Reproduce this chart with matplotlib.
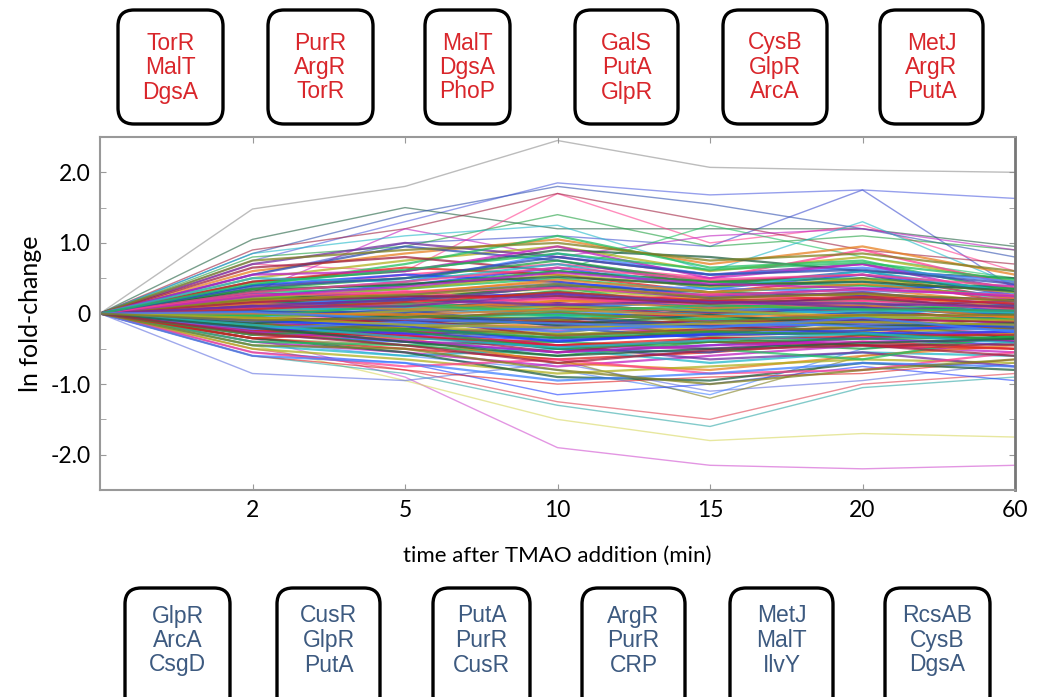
import matplotlib
matplotlib.use("Agg")
import matplotlib.pyplot as plt
import matplotlib.patches as patches
from matplotlib.ticker import MultipleLocator

# time points (evenly spaced on the plot)
TIMES = ["2", "5", "10", "15", "20", "60"]

# ln fold-change at 2, 5, 10, 15, 20, 60 min (all start at 0)
PROFILES = [
    [1.48, 1.80, 2.45, 2.07, 2.03, 2.00],
    [0.75, 1.30, 1.85, 1.68, 1.75, 1.63],
    [0.55, 1.00, 1.10, 0.95, 1.75, 0.35],
    [-0.35, -0.90, -1.90, -2.15, -2.20, -2.15],
    [-0.45, -0.95, -1.50, -1.80, -1.70, -1.75],
    [-0.60, -0.85, -1.30, -1.60, -1.05, -0.90],
    [-0.50, -0.80, -1.25, -1.50, -1.00, -0.85],
    [-0.85, -0.95, -0.70, -1.10, -0.95, -0.70],
    [1.05, 1.50, 1.20, 1.20, 1.20, 0.95],
    [0.70, 0.60, 1.70, 1.00, 1.25, 0.60],
    [0.85, 1.40, 1.80, 1.55, 1.20, 0.80],
    [0.40, 0.50, 0.60, 1.25, 0.80, 0.50],
    [0.90, 1.20, 1.70, 1.30, 0.90, 0.70],
    [-0.40, -0.60, -0.80, -1.15, -0.50, -0.30],
    [-0.35, -0.45, -0.65, -1.20, -0.60, -0.40],
    [-0.55, -0.70, -1.15, -1.00, -0.75, -0.95],
    [-0.60, -0.80, -1.00, -0.90, -0.85, -0.65],
    [0.80, 0.95, 1.40, 0.95, 1.10, 0.90],
    [0.30, 1.20, 0.80, 1.10, 1.20, 0.90],
    [0.85, 1.10, 1.25, 0.60, 1.30, 0.40],
    [0.60, 0.85, 1.05, 0.70, 0.95, 0.55],
    [0.50, 0.75, 0.95, 0.60, 0.80, 0.45],
    [0.70, 1.00, 0.80, 0.55, 0.70, 0.35],
    [0.45, 0.60, 0.90, 0.80, 0.60, 0.50],
    [0.35, 0.55, 0.70, 0.50, 0.90, 0.40],
    [0.55, 0.95, 0.75, 0.40, 0.60, 0.25],
    [0.40, 0.70, 1.10, 0.65, 0.75, 0.30],
    [0.65, 0.80, 0.60, 0.45, 0.55, 0.20],
    [0.30, 0.45, 0.85, 0.55, 0.65, 0.45],
    [0.75, 0.90, 1.00, 0.75, 0.85, 0.60],
    [0.25, 0.40, 0.65, 0.35, 0.55, 0.30],
    [0.45, 0.65, 0.55, 0.30, 0.50, 0.15],
    [0.35, 0.50, 0.75, 0.45, 0.40, 0.35],
    [0.55, 0.60, 0.95, 0.50, 0.70, 0.25],
    [0.20, 0.35, 0.60, 0.40, 0.45, 0.20],
    [0.20, 0.30, 0.45, 0.25, 0.35, 0.15],
    [0.15, 0.25, 0.35, 0.20, 0.30, 0.10],
    [0.10, 0.20, 0.30, 0.15, 0.20, 0.05],
    [0.25, 0.20, 0.40, 0.30, 0.25, 0.20],
    [0.05, 0.15, 0.20, 0.10, 0.15, 0.00],
    [0.10, 0.05, 0.25, 0.05, 0.10, -0.05],
    [0.30, 0.35, 0.50, 0.30, 0.40, 0.25],
    [0.00, 0.10, 0.15, 0.00, 0.05, -0.10],
    [-0.05, 0.00, 0.05, -0.10, 0.00, -0.15],
    [0.15, 0.10, 0.10, 0.05, 0.20, 0.05],
    [-0.10, -0.05, 0.00, -0.05, -0.10, -0.20],
    [0.05, -0.05, -0.10, 0.00, 0.05, -0.10],
    [-0.15, -0.10, -0.05, -0.15, -0.05, -0.25],
    [-0.20, -0.15, -0.20, -0.10, -0.15, -0.30],
    [0.10, 0.15, -0.05, 0.10, 0.00, 0.10],
    [-0.05, -0.20, -0.15, -0.25, -0.20, -0.15],
    [-0.25, -0.20, -0.30, -0.20, -0.25, -0.20],
    [0.20, 0.05, 0.15, -0.05, 0.10, -0.05],
    [-0.10, -0.25, -0.35, -0.30, -0.10, -0.35],
    [0.00, -0.10, -0.25, -0.15, -0.30, -0.10],
    [-0.30, -0.30, -0.20, -0.35, -0.35, -0.25],
    [0.25, 0.15, 0.05, 0.20, 0.15, 0.00],
    [-0.20, -0.35, -0.40, -0.25, -0.20, -0.40],
    [0.05, 0.25, 0.10, 0.15, -0.05, 0.15],
    [-0.15, 0.00, -0.10, 0.05, -0.10, -0.05],
    [0.12, 0.22, 0.28, 0.08, 0.25, 0.02],
    [-0.08, -0.12, 0.08, -0.02, -0.15, -0.22],
    [0.18, 0.12, 0.32, 0.12, 0.05, 0.12],
    [-0.22, -0.28, -0.18, -0.28, -0.08, -0.12],
    [0.02, 0.08, -0.02, -0.08, 0.12, -0.02],
    [0.08, -0.02, 0.18, 0.22, 0.28, 0.08],
    [-0.12, -0.18, -0.28, -0.05, -0.22, -0.28],
    [0.28, 0.25, 0.22, 0.18, 0.10, 0.18],
    [-0.28, -0.15, -0.12, -0.18, -0.28, -0.32],
    [0.15, 0.32, 0.12, 0.28, 0.18, 0.22],
    [-0.02, 0.05, -0.18, -0.12, 0.02, -0.08],
    [0.22, 0.18, 0.38, 0.05, 0.22, -0.02],
    [-0.18, -0.08, -0.32, -0.22, -0.12, -0.18],
    [0.08, 0.28, 0.42, 0.35, 0.32, 0.28],
    [-0.05, -0.22, -0.08, -0.32, -0.25, -0.05],
    [-0.30, -0.40, -0.55, -0.45, -0.35, -0.45],
    [-0.35, -0.50, -0.65, -0.55, -0.40, -0.50],
    [-0.25, -0.45, -0.60, -0.40, -0.50, -0.35],
    [-0.40, -0.55, -0.75, -0.60, -0.45, -0.55],
    [-0.45, -0.60, -0.50, -0.70, -0.55, -0.60],
    [-0.30, -0.35, -0.70, -0.80, -0.60, -0.45],
    [-0.50, -0.65, -0.85, -0.75, -0.65, -0.70],
    [-0.20, -0.40, -0.45, -0.65, -0.55, -0.75],
    [-0.35, -0.55, -0.90, -0.95, -0.70, -0.80],
    [-0.55, -0.75, -0.65, -0.85, -0.80, -0.55],
    [-0.25, -0.30, -0.50, -0.55, -0.30, -0.40],
    [-0.40, -0.45, -0.40, -0.50, -0.65, -0.30],
    [-0.15, -0.30, -0.55, -0.35, -0.45, -0.60],
    [-0.60, -0.70, -0.95, -0.85, -0.70, -0.75],
    [-0.45, -0.50, -0.80, -1.00, -0.80, -0.65],
    [0.40, 0.55, 0.45, 0.25, 0.35, 0.40],
    [-0.35, -0.25, -0.45, -0.40, -0.45, -0.50],
    [0.35, 0.40, 0.60, 0.45, 0.50, 0.35],
    [-0.10, -0.30, -0.45, -0.50, -0.35, -0.25],
    [0.50, 0.45, 0.70, 0.35, 0.60, 0.30],
    [0.18, 0.28, 0.48, 0.30, 0.42, 0.22],
    [0.22, 0.35, 0.55, 0.38, 0.48, 0.30],
    [0.12, 0.18, 0.38, 0.22, 0.30, 0.12],
    [0.32, 0.42, 0.52, 0.40, 0.45, 0.32],
    [0.08, 0.12, 0.22, 0.12, 0.18, 0.06],
    [0.02, 0.02, 0.12, 0.02, 0.08, -0.02],
    [-0.02, -0.05, -0.02, -0.08, -0.05, -0.08],
    [-0.06, -0.10, -0.12, -0.12, -0.08, -0.12],
    [-0.12, -0.15, -0.22, -0.18, -0.15, -0.18],
    [-0.16, -0.22, -0.30, -0.25, -0.20, -0.22],
    [-0.20, -0.28, -0.38, -0.30, -0.28, -0.26],
    [-0.24, -0.32, -0.45, -0.35, -0.32, -0.30],
    [-0.18, -0.25, -0.50, -0.40, -0.36, -0.34],
    [-0.26, -0.38, -0.55, -0.45, -0.40, -0.38],
    [0.05, 0.08, 0.05, -0.02, 0.04, 0.02],
    [0.14, 0.06, 0.18, 0.08, 0.12, -0.06],
    [-0.08, 0.04, 0.10, 0.04, -0.04, -0.10],
    [0.10, 0.20, 0.12, 0.18, 0.08, 0.04],
    [-0.14, -0.02, -0.16, -0.02, -0.18, -0.14],
    [0.26, 0.30, 0.36, 0.26, 0.34, 0.26],
    [0.04, -0.12, -0.06, -0.18, -0.10, -0.20],
    [-0.04, 0.12, 0.02, 0.12, 0.06, 0.04],
    [0.16, 0.24, 0.25, 0.14, 0.22, 0.08],
    [-0.22, -0.12, -0.26, -0.12, -0.18, -0.24],
    [0.20, 0.26, 0.42, 0.22, 0.28, 0.18],
    [-0.10, -0.18, -0.40, -0.28, -0.24, -0.16],
    [0.06, 0.16, 0.30, 0.18, 0.24, 0.14],
    [-0.30, -0.22, -0.34, -0.26, -0.30, -0.36],
    [0.24, 0.38, 0.58, 0.42, 0.36, 0.24],
    [-0.16, -0.34, -0.48, -0.38, -0.28, -0.42],
    [0.00, -0.02, 0.06, -0.04, -0.02, -0.04],
    [-0.06, -0.16, -0.20, -0.14, -0.12, -0.16],
    [0.10, 0.10, 0.28, 0.16, 0.14, 0.10],
    [-0.20, -0.40, -0.60, -0.50, -0.42, -0.36],
    [0.30, 0.45, 0.65, 0.48, 0.55, 0.38],
    [0.38, 0.50, 0.80, 0.55, 0.62, 0.42],
    [0.42, 0.62, 0.85, 0.62, 0.72, 0.48],
    [-0.28, -0.45, -0.70, -0.52, -0.45, -0.44],
    [0.02, -0.08, -0.14, -0.20, -0.06, -0.26],
    [-0.10, -0.06, 0.02, -0.12, -0.02, -0.02],
]

# regulators enriched in up (top) / down (bottom) genes per time point
UP_TF = [
    ["TorR", "MalT", "DgsA"],
    ["PurR", "ArgR", "TorR"],
    ["MalT", "DgsA", "PhoP"],
    ["GalS", "PutA", "GlpR"],
    ["CysB", "GlpR", "ArcA"],
    ["MetJ", "ArgR", "PutA"],
]
DOWN_TF = [
    ["GlpR", "ArcA", "CsgD"],
    ["CusR", "GlpR", "PutA"],
    ["PutA", "PurR", "CusR"],
    ["ArgR", "PurR", "CRP"],
    ["MetJ", "MalT", "IlvY"],
    ["RcsAB", "CysB", "DgsA"],
]

# line colours: first few outliers fixed, rest cycle
FIXED = ["#909090", "#5060e0", "#4050d0", "#d050d0", "#d8d860", "#30a8a8",
         "#e04050", "#6070e0"]
CYCLE = ["#2040ff", "#e02020", "#20a040", "#c020c0", "#20b8c8", "#e88020",
         "#b0b020", "#7030a0", "#206040", "#ff4090", "#3050b0", "#20c060",
         "#a02040", "#4080ff", "#808020"]

# box geometry in pixels (left, right)
UP_BOX_X = [(118, 223), (268, 373), (425, 510), (575, 678), (723, 827), (880, 983)]
DOWN_BOX_X = [(125, 230), (277, 380), (433, 530), (582, 685), (730, 833), (885, 990)]

W, H = 1038, 697
fig = plt.figure(figsize=(W / 100, H / 100), dpi=100)

# overlay axes in pixel coords for the boxes
ov = fig.add_axes([0, 0, 1, 1])
ov.set_xlim(0, W)
ov.set_ylim(H, 0)
ov.axis("off")


def draw_boxes(boxes, names, y0, y1, ty, color):
    for (x0, x1), tfs in zip(boxes, names):
        ov.add_patch(patches.FancyBboxPatch(
            (x0 + 16, y0 + 16), x1 - x0 - 32, y1 - y0 - 32,
            boxstyle="round,pad=16", facecolor="white",
            edgecolor="black", linewidth=2.4))
        cx = (x0 + x1) / 2
        for k, name in enumerate(tfs):
            ov.text(cx, ty + k * 24.5, name, ha="center", va="center",
                    fontsize=16.5, color=color,
                    family=["Liberation Sans", "DejaVu Sans"])


draw_boxes(UP_BOX_X, UP_TF, 10, 124, 43, "#d9262b")
draw_boxes(DOWN_BOX_X, DOWN_TF, 588, 712, 616, "#3d5a80")

ax = fig.add_axes([100 / W, 1 - 490 / H, 915 / W, 353 / H])
x = list(range(len(TIMES) + 1))
for i, prof in enumerate(PROFILES):
    c = FIXED[i] if i < len(FIXED) else CYCLE[i % len(CYCLE)]
    if i < 20:
        ax.plot(x, [0] + prof, color=c, lw=1.0, alpha=0.6)
    else:
        ax.plot(x, [0] + prof, color=c, lw=1.6, alpha=0.75)

ax.set_xlim(0, len(TIMES))
ax.set_ylim(-2.5, 2.5)
ax.set_xticks(x[1:])
ax.set_xticklabels(TIMES)
ax.set_yticks([-2, -1, 0, 1, 2])
ax.set_yticklabels(["-2.0", "-1.0", "0", "1.0", "2.0"])
ax.yaxis.set_minor_locator(MultipleLocator(0.5))
ax.tick_params(which="both", direction="in", top=True, right=True,
               color="#999999", labelsize=16.5, pad=7)
ax.tick_params(which="major", length=4)
ax.tick_params(which="minor", length=4)
for lab in ax.get_xticklabels() + ax.get_yticklabels():
    lab.set_family("Lato")
for s in ax.spines.values():
    s.set_color("#999999")
    s.set_linewidth(1.5)
ax.spines["right"].set_color("#777777")
ax.spines["right"].set_linewidth(2)

ax.set_ylabel("ln fold-change", fontsize=18, family="Lato", labelpad=6)
ax.set_xlabel("time after TMAO addition (min)", fontsize=16, family="Lato",
              labelpad=18)

fig.savefig("out.png", dpi=100)
